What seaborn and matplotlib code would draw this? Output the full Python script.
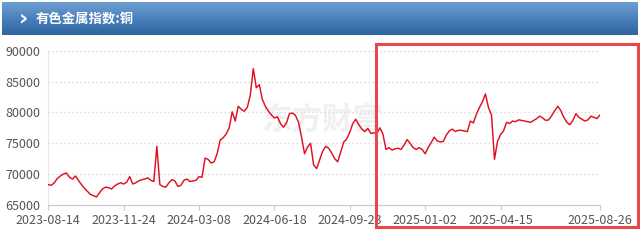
import numpy as np
import pandas as pd
import matplotlib
matplotlib.use("Agg")
import matplotlib.pyplot as plt
import seaborn as sns
from matplotlib.patches import Rectangle
from matplotlib.colors import LinearSegmentedColormap

title = "有色金属指数:铜"
tick_labels = ["2023-08-14", "2023-11-24", "2024-03-08", "2024-06-18",
               "2024-09-23", "2025-01-02", "2025-04-15", "2025-08-26"]
tick_index = [0, 25, 50, 75, 100, 125, 150, 183]
y_ticks = [65000, 70000, 75000, 80000, 85000, 90000]

copper_index = [
    68300, 68200, 68600, 69300, 69700, 70000, 70200, 69500, 69200, 69700,
    69000, 68300, 67700, 67200, 66700, 66500, 66300, 67000, 67600, 67900,
    67800, 67600, 68100, 68400, 68600, 68400, 68700, 69600, 68400, 68600,
    68900, 69100, 69200, 69400, 69000, 68800, 74500, 68300, 68000, 67900,
    68600, 69100, 68900, 68000, 68200, 69000, 69200, 68800, 68900, 69000,
    69600, 69500, 72600, 72400, 71800, 72000, 73300, 75500, 75900, 76500,
    77500, 80100, 78600, 81000, 80500, 80200, 80800, 82800, 87100, 84000,
    84500, 82100, 81000, 80200, 79600, 79100, 79300, 78200, 77600, 78300,
    79800, 79900, 79500, 78400, 76000, 73300, 74400, 75000, 71500, 70900,
    72300, 73700, 74500, 74200, 73400, 72500, 72000, 73600, 75200, 75700,
    76800, 78200, 78900, 78000, 77300, 76900, 77400, 76600, 76700, 76600,
    77500, 76500, 74000, 74300, 73900, 74100, 74200, 74000, 74700, 75600,
    75000, 74300, 74000, 74300, 74000, 73300, 74300, 75100, 76000, 75400,
    75200, 75300, 76300, 77000, 77300, 76900, 77100, 77100, 77000, 76900,
    78600, 78300, 79700, 80800, 81700, 83000, 80800, 79600, 72400, 75300,
    76400, 77000, 78400, 78200, 78600, 78500, 78800, 78700, 78600, 78500,
    78400, 78700, 79000, 79400, 79100, 78700, 78800, 79500, 80300, 81000,
    80300, 79200, 78400, 78000, 78700, 79800, 79200, 78900, 78600, 78800,
    79400, 79200, 79000, 79600,
]

df = pd.DataFrame({"i": np.arange(len(copper_index)), "v": copper_index})

sns.set_style("white")
plt.rcParams["font.family"] = ["Noto Sans CJK SC", "DejaVu Sans"]

W, H = 640, 243
fig = plt.figure(figsize=(W / 100, H / 100), dpi=100)
fig.patch.set_facecolor("white")

def fx(px):
    return px / W

def fy(py):
    return 1 - py / H

# title bar with gradient
bar_ax = fig.add_axes([fx(2), fy(35), fx(636), 33 / H])
grad = np.linspace(0, 1, 64).reshape(-1, 1)
cmap = LinearSegmentedColormap.from_list("bar", ["#6f9fd2", "#4a80bb", "#2e659f"])
bar_ax.imshow(grad, aspect="auto", cmap=cmap, extent=[0, 1, 0, 1], origin="upper")
bar_ax.set_xlim(0, 1)
bar_ax.set_ylim(0, 1)
bar_ax.axis("off")
bar_ax.text(17 / 636, 0.5, "›", color="white", fontsize=16, fontweight="bold",
            va="center", ha="left", family=["DejaVu Sans"])
bar_ax.text(34 / 636, 0.5, title, color="white", fontsize=9.6, fontweight="bold",
            va="center", ha="left")

# main chart axes
left, right = 48.3, 600.0
top, bottom = 50.7, 205.0
ax = fig.add_axes([fx(left), fy(bottom), fx(right - left), (bottom - top) / H])
ax.set_facecolor("white")

# watermark (behind everything in the axes)
ax.text(fx(322), fy(120), "东方财富", fontsize=22, color="#f0f0f0",
        fontweight="bold", style="italic", ha="center", va="center",
        transform=fig.transFigure, zorder=0)

for t in y_ticks[1:]:
    ax.axhline(t, color="#d9d9d9", linewidth=0.9, linestyle=(0, (1.2, 2.0)), zorder=1)

sns.lineplot(data=df, x="i", y="v", ax=ax, color="#e01020", linewidth=1.05, zorder=3)

ax.set_xlim(0, len(copper_index) - 1)
ax.set_ylim(65000, 90000)
ax.set_yticks(y_ticks)
ax.set_yticklabels([str(t) for t in y_ticks])
ax.set_xticks(tick_index)
ax.set_xticklabels(tick_labels)
ax.set_xlabel("")
ax.set_ylabel("")

for s in ["top", "right"]:
    ax.spines[s].set_visible(False)
ax.spines["left"].set_color("#e6e6e6")
ax.spines["left"].set_linewidth(0.8)
ax.spines["bottom"].set_color("#cccccc")
ax.spines["bottom"].set_linewidth(0.9)

ax.tick_params(axis="x", which="both", length=3.5, width=0.8, color="#cccccc",
               labelsize=9, labelcolor="#555555", pad=3, direction="out", bottom=True)
ax.tick_params(axis="y", which="both", length=0, labelsize=9, labelcolor="#555555", pad=6)

# red highlight rectangle
fig.patches.append(Rectangle((fx(375.5), fy(227)), fx(638 - 375.5), (227 - 44) / H,
                             transform=fig.transFigure, fill=False,
                             edgecolor="#e8484a", linewidth=2.2, zorder=10))

fig.savefig("out.png", dpi=100, facecolor="white")
